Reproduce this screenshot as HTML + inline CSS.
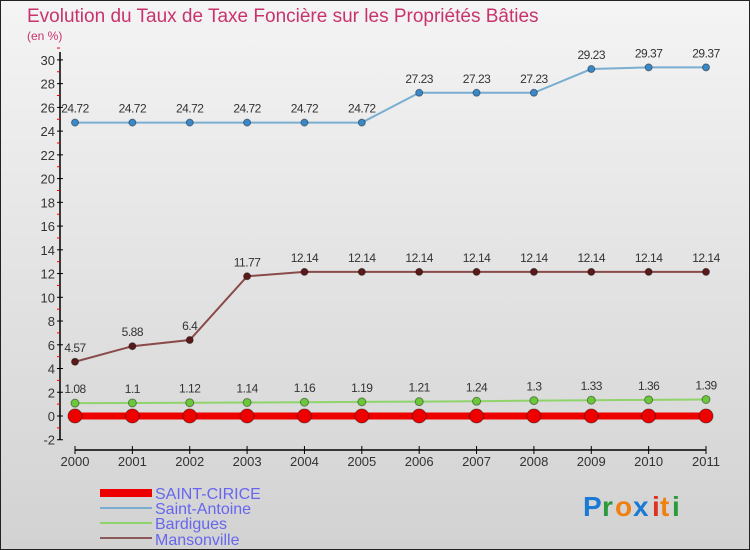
<!DOCTYPE html>
<html><head><meta charset="utf-8"><style>
body{margin:0;}
#c{width:750px;height:550px;position:relative;overflow:hidden;font-family:"Liberation Sans",sans-serif;}
</style></head><body>
<div id="c">
<svg width="750" height="550" xmlns="http://www.w3.org/2000/svg" id="svg">
<defs><linearGradient id="bg" x1="0" y1="0" x2="0" y2="1"><stop offset="0" stop-color="#f4f4f4"/><stop offset="1" stop-color="#d2d2d2"/></linearGradient></defs>
<rect x="0.5" y="0.5" width="749" height="549" fill="url(#bg)" stroke="#222"/>
<text x="27" y="22" font-size="19" fill="#c8336e">Evolution du Taux de Taxe Foncière sur les Propriétés Bâties</text>
<text x="27" y="40" font-size="12" fill="#c8336e">(en %)</text>
<g id="axes"></g>
<g id="series"></g>
<g>
<rect x="100" y="489" width="52" height="8" fill="#e00"/>
<text x="155" y="499" font-size="16" fill="#6666ee">SAINT-CIRICE</text>
<line x1="100" y1="508" x2="152" y2="508" stroke="#7aaed0" stroke-width="2"/>
<text x="155" y="514" font-size="16" fill="#6666ee">Saint-Antoine</text>
<line x1="100" y1="523" x2="152" y2="523" stroke="#8fd46a" stroke-width="2"/>
<text x="155" y="529" font-size="16" fill="#6666ee">Bardigues</text>
<line x1="100" y1="538" x2="152" y2="538" stroke="#8a5a5a" stroke-width="2"/>
<text x="155" y="545" font-size="16" fill="#6666ee">Mansonville</text>
</g>
<g font-size="28" font-weight="bold">
<text x="583" y="516" fill="#1a7ad4">P</text><text x="602" y="516" fill="#2a9a3a">r</text><text x="615" y="516" fill="#f08010">o</text><text x="633" y="516" fill="#1a7ad4">x</text><text x="652" y="516" fill="#e03020">i</text><text x="660" y="516" fill="#f08010">t</text><text x="672" y="516" fill="#2a9a3a">i</text>
</g>
</svg>
</div>
<script>
const years=[2000,2001,2002,2003,2004,2005,2006,2007,2008,2009,2010,2011];
const saintCirice=[0,0,0,0,0,0,0,0,0,0,0,0];
const saintAntoine=[24.72,24.72,24.72,24.72,24.72,24.72,27.23,27.23,27.23,29.23,29.37,29.37];
const bardigues=[1.08,1.1,1.12,1.14,1.16,1.19,1.21,1.24,1.3,1.33,1.36,1.39];
const mansonville=[4.57,5.88,6.4,11.77,12.14,12.14,12.14,12.14,12.14,12.14,12.14,12.14];
const yTicks=[-2,0,2,4,6,8,10,12,14,16,18,20,22,24,26,28,30];
const NS="http://www.w3.org/2000/svg";
const x=i=>75+i*(706-75)/(years.length-1);
const y=v=>416-v*11.87;
function mk(tag,attrs,parent){const e=document.createElementNS(NS,tag);for(const k in attrs)e.setAttribute(k,attrs[k]);parent.appendChild(e);return e;}
const ax=document.getElementById('axes');
let l=mk('line',{x1:60,y1:52,x2:60,y2:y(-2),stroke:'#000','stroke-width':1.5},ax);


yTicks.forEach(t=>{
 const tk=mk('line',{x1:57,y1:y(t),x2:63,y2:y(t),stroke:'#000'},ax);
 
 
 const m=mk('line',{x1:57,y1:y(t+1),x2:60,y2:y(t+1),stroke:'#e00'},ax);
 
 
 const tx=mk('text',{x:55,y:y(t)+5,'font-size':13,'text-anchor':'end',fill:'#333'},ax);
 tx.textContent=t;
 
 
});
l=mk('line',{x1:75,y1:450,x2:706,y2:450,stroke:'#000','stroke-width':1.5},ax);


years.forEach((yr,i)=>{
 const tk=mk('line',{x1:x(i),y1:446,x2:x(i),y2:454,stroke:'#000'},ax);
 
 
 const tx=mk('text',{x:x(i),y:466,'font-size':13,'text-anchor':'middle',fill:'#333'},ax);
 tx.textContent=yr;
 
 
});
const sg=document.getElementById('series');
function series(vals,name,color,dot,width,r,labels){
 const g=mk('g',{},sg);
 
 
 const p=mk('polyline',{points:vals.map((v,i)=>x(i)+','+y(v)).join(' '),fill:'none',stroke:color,'stroke-width':width},g);
 
 
 vals.forEach((v,i)=>{
  const c=mk('circle',{cx:x(i),cy:y(v),r:r,fill:dot,stroke:'rgba(0,0,0,0.4)','stroke-width':1},g);
  
  
  if(labels){
   const t=mk('text',{x:x(i),y:y(v)-10,'font-size':12,'text-anchor':'middle',fill:'#333','letter-spacing':'-0.5'},g);
   t.textContent=v;
   
   
  }
 });
}
series(saintAntoine,'saint-antoine','#7aaed0','#3a88c8',2,3.5,true);
series(mansonville,'mansonville','#8a4a4a','#5a1a1a',2,3.5,true);
series(bardigues,'bardigues','#8fd46a','#6ac83a',2,4,true);
series(saintCirice,'saint-cirice','#e00','#e00',7,7,false);
</script>
</body></html>
